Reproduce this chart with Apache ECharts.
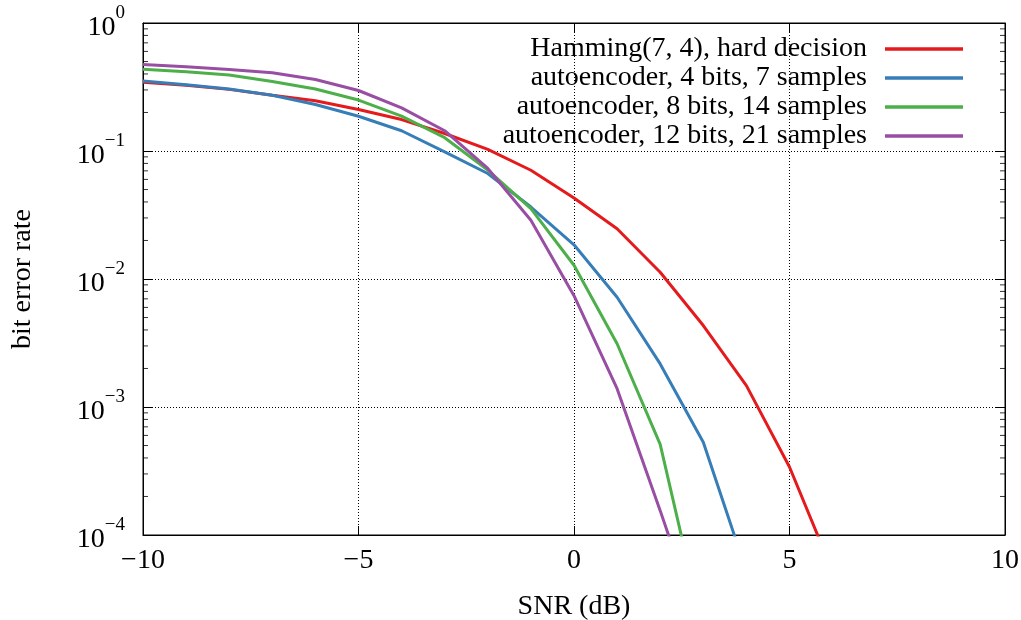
<!DOCTYPE html>
<html>
<head>
<meta charset="utf-8">
<script src="https://cdn.jsdelivr.net/npm/echarts@6/dist/echarts.min.js"></script>
<style>html,body{margin:0;padding:0;background:#fff}#c{width:1021px;height:620px}</style>
</head>
<body>
<div id="c"></div>
<script>
const seriesNames = [
  'Hamming(7, 4), hard decision',
  'autoencoder, 4 bits, 7 samples',
  'autoencoder, 8 bits, 14 samples',
  'autoencoder, 12 bits, 21 samples'
];
const snrHamming = [-10,-9,-8,-7,-6,-5,-4,-3,-2,-1,0,1,2,3,4,5,6];
const berHamming = [0.345,0.327,0.303,0.273,0.247,0.211,0.176,0.137,0.103,0.0707,0.043,0.0247,0.0113,0.00433,0.00147,0.00034,0.000052];
const snrAE4 = [-10,-9,-8,-7,-6,-5,-4,-3,-2,-1,0,1,2,3,4];
const berAE4 = [0.352,0.329,0.305,0.273,0.231,0.187,0.144,0.0985,0.0667,0.0365,0.0185,0.0072,0.00217,0.00053,0.000052];
const snrAE8 = [-10,-9,-8,-7,-6,-5,-4,-3,-2,-1,0,1,2,3];
const berAE8 = [0.436,0.416,0.392,0.349,0.305,0.25,0.187,0.127,0.071,0.0355,0.0128,0.00312,0.00051,0.000018];
const snrAE12 = [-10,-9,-8,-7,-6,-5,-4,-3,-2,-1,0,1,2,3];
const berAE12 = [0.475,0.455,0.434,0.408,0.362,0.297,0.217,0.144,0.073,0.0288,0.0074,0.00139,0.000155,0.000016];
const colors = ['#e41a1c','#377eb8','#4daf4a','#984ea3'];
const yTickExp = { 1: '0', 0.1: '−1', 0.01: '−2', 0.001: '−3', 0.0001: '−4' };

// minor tick positions (2..9 per decade)
const minorTicks = [];
for (let e = -4; e < 0; e++) for (let k = 2; k <= 9; k++) minorTicks.push(k * Math.pow(10, e));

const FONT = 'Liberation Serif';
const FS = 28;

function pairs(xs, ys) { return xs.map((x, i) => [x, ys[i]]); }

const chart = echarts.init(document.getElementById('c'));
const lineSeries = [
  [snrHamming, berHamming], [snrAE4, berAE4], [snrAE8, berAE8], [snrAE12, berAE12]
].map((d, i) => ({
  name: seriesNames[i], type: 'line', data: pairs(d[0], d[1]),
  showSymbol: false, symbol: 'none', clip: true,
  lineStyle: { color: colors[i], width: 3 }, itemStyle: { color: colors[i] },
  z: 5
}));

function minorTickSeries(xEdge, offset) {
  return {
    type: 'scatter', silent: true, clip: false, z: 10,
    symbol: 'rect', symbolSize: [5, 1], symbolOffset: [offset, 0],
    itemStyle: { color: '#000' },
    data: minorTicks.map(v => [xEdge, v])
  };
}

const axisCommon = {
  axisLine: { show: true, onZero: false, lineStyle: { color: '#000', width: 1 } },
  axisTick: { show: true, inside: true, length: 9, lineStyle: { color: '#000', width: 1 } }
};

chart.setOption({
  animation: false,
  backgroundColor: '#fff',
  textStyle: { fontFamily: FONT },
  grid: { left: 143, right: 16, top: 23, bottom: 85, show: true, borderColor: '#000', borderWidth: 1, containLabel: false, outerBoundsMode: 'none' },
  legend: {
    orient: 'vertical', align: 'right', right: 53, top: 30,
    itemWidth: 78, itemHeight: 3.5, itemGap: 1,
    icon: 'rect',
    data: seriesNames,
    formatter: n => '{t|' + n + '}',
    textStyle: { fontFamily: FONT, fontSize: FS, color: '#000', rich: { t: { fontFamily: FONT, fontSize: FS, color: '#000', padding: [0, 13, 0, 0] } } }
  },
  xAxis: [{
    type: 'value', min: -10, max: 10, interval: 5, position: 'bottom',
    name: 'SNR (dB)', nameLocation: 'middle', nameGap: 58,
    nameTextStyle: { fontFamily: FONT, fontSize: FS, color: '#000' },
    ...axisCommon,
    axisLabel: { margin: 12, fontFamily: FONT, fontSize: FS, color: '#000', formatter: v => (v < 0 ? '−' + (-v) : String(v)) },
    splitLine: { show: true, lineStyle: { color: '#000', type: [1, 2], width: 1 } }
  }, {
    type: 'value', min: -10, max: 10, interval: 5, position: 'top',
    ...axisCommon, axisLabel: { show: false }, splitLine: { show: false }
  }],
  yAxis: [{
    type: 'log', logBase: 10, min: 0.0001, max: 1, position: 'left',
    name: 'bit error rate', nameLocation: 'middle', nameGap: 106, nameRotate: 90,
    nameTextStyle: { fontFamily: FONT, fontSize: FS, color: '#000' },
    ...axisCommon,
    axisLabel: {
      margin: 18, color: '#000',
      formatter: v => {
        let key = null;
        for (const k in yTickExp) if (Math.abs(Number(k) - v) / v < 1e-6) key = k;
        return key === null ? '' : '{b|10}{s|' + yTickExp[key] + '}';
      },
      rich: {
        b: { fontFamily: FONT, fontSize: FS, color: '#000', verticalAlign: 'bottom', lineHeight: 38 },
        s: { fontFamily: FONT, fontSize: 19, color: '#000', verticalAlign: 'top', lineHeight: 38 }
      }
    },
    splitLine: { show: true, lineStyle: { color: '#000', type: [1, 2], width: 1 } }
  }, {
    type: 'log', logBase: 10, min: 0.0001, max: 1, position: 'right',
    ...axisCommon, axisLabel: { show: false }, splitLine: { show: false }
  }],
  series: [...lineSeries, minorTickSeries(-10, 2.5), minorTickSeries(10, -2.5)]
});
</script>
</body>
</html>
